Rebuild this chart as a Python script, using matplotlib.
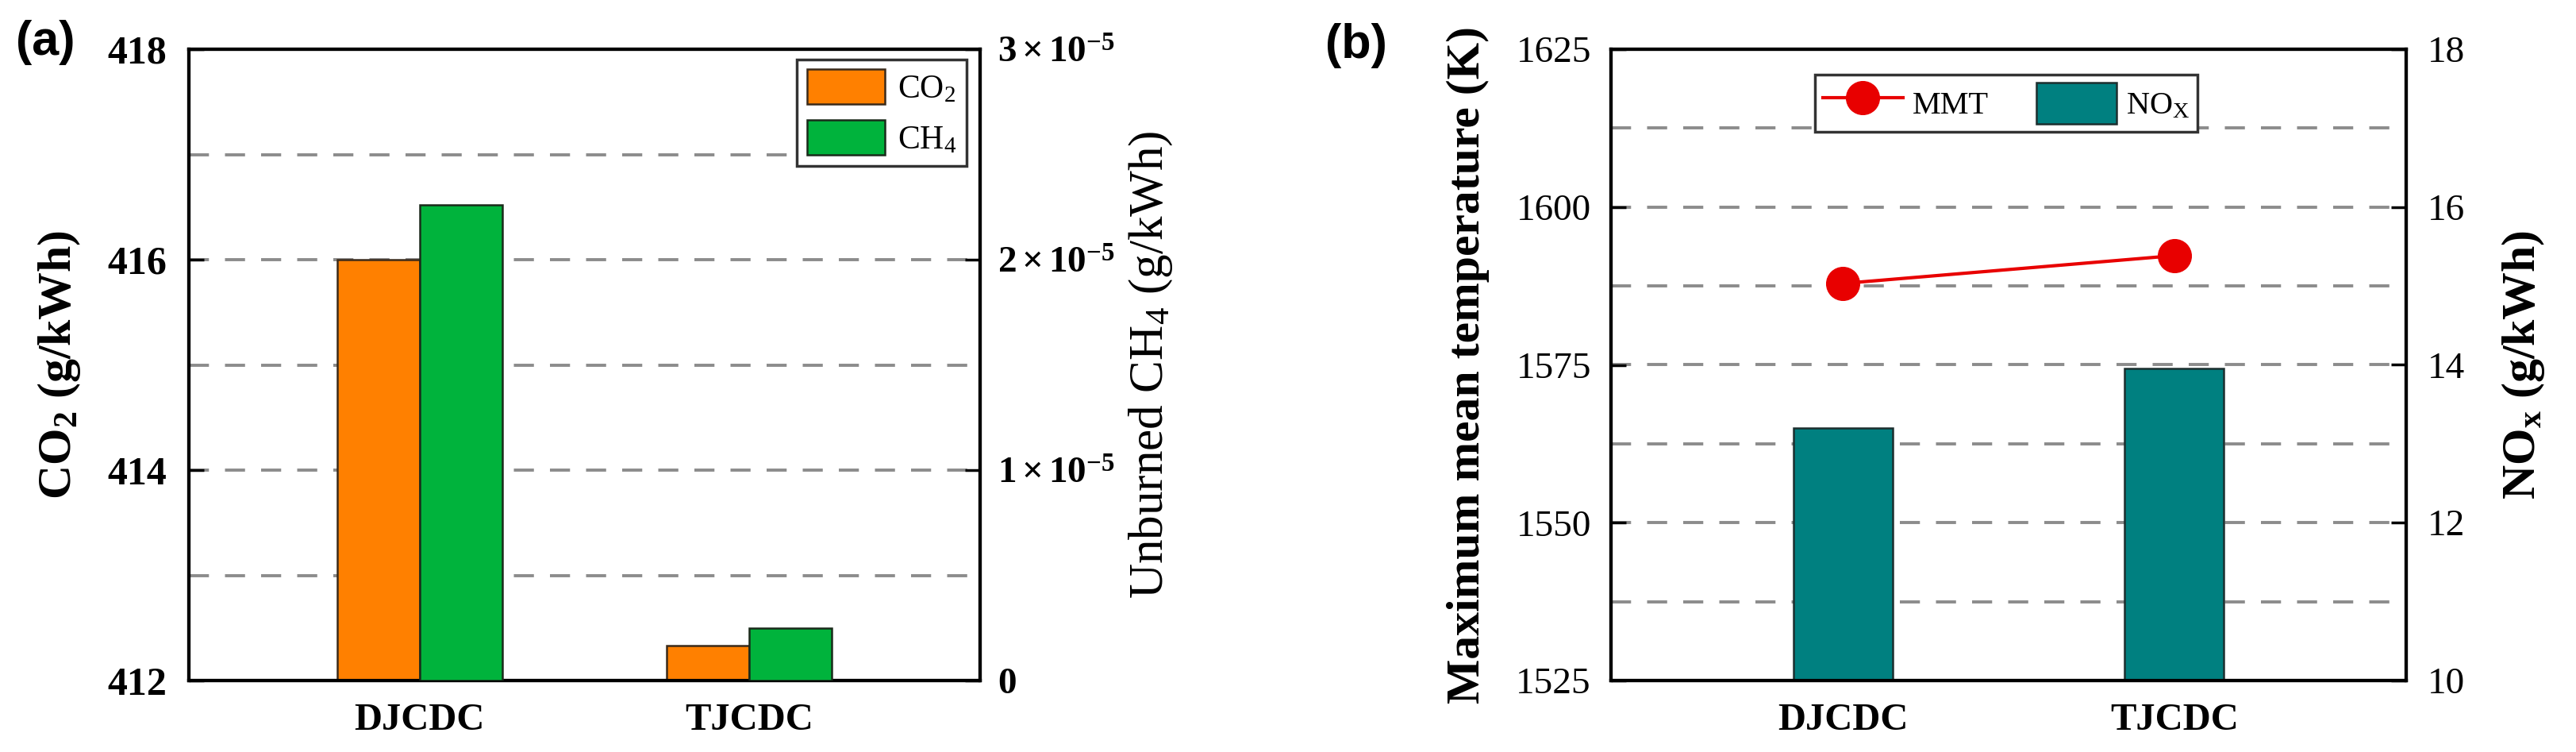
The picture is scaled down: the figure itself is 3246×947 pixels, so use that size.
import matplotlib
matplotlib.use("Agg")
import matplotlib.pyplot as plt
from matplotlib.ticker import MultipleLocator
import numpy as np

plt.rcParams['font.family'] = ['Liberation Serif', 'DejaVu Serif']
plt.rcParams['mathtext.fontset'] = 'custom'
plt.rcParams['mathtext.rm'] = 'Liberation Serif'
plt.rcParams['mathtext.it'] = 'Liberation Serif:italic'
plt.rcParams['mathtext.bf'] = 'Liberation Serif:bold'

# data
categories = ["DJCDC", "TJCDC"]
co2 = [416.0, 412.33]          # g/kWh, left axis of (a)
ch4 = [2.26e-5, 2.5e-6]        # g/kWh, right axis of (a)
mmt = [1587.9, 1592.3]         # K, left axis of (b)
nox = [13.2, 13.95]            # g/kWh, right axis of (b)

co2_ticks = [412, 414, 416, 418]
ch4_ticks = [0, 1e-5, 2e-5, 3e-5]
ch4_ticklabels = [r"$\mathbf{0}$", r"$\mathbf{1\times10^{-5}}$",
                  r"$\mathbf{2\times10^{-5}}$", r"$\mathbf{3\times10^{-5}}$"]
mmt_ticks = [1525, 1550, 1575, 1600, 1625]
nox_ticks = [10, 12, 14, 16, 18]

ORANGE = "#FF8000"
GREEN = "#00B33C"
TEAL = "#008080"
RED = "#E80000"
GRID = "#8c8c8c"
SPINE_W = 3.0
grid_kw = dict(color=GRID, linestyle=(0, (6.5, 5.2)), linewidth=2.8)

fig = plt.figure(figsize=(32.46, 9.47), dpi=100)
x = np.arange(len(categories))


def style_axes(ax):
    for s in ax.spines.values():
        s.set_linewidth(SPINE_W)
    ax.tick_params(which="major", direction="in", length=14, width=2.5)
    ax.tick_params(which="minor", length=0)


# ---------------- panel (a) ----------------
ax1 = fig.add_axes([238 / 3246, 90 / 947, 997 / 3246, 795 / 947])
ax1b = ax1.twinx()
bw = 0.25
b1 = ax1.bar(x - bw / 2, co2, width=bw, color=ORANGE, edgecolor="#3a2a1a",
             linewidth=1.8, label="CO$_2$", zorder=3)
b2 = ax1b.bar(x + bw / 2, ch4, width=bw, color=GREEN, edgecolor="#1a2a1a",
              linewidth=1.8, label="CH$_4$", zorder=3)
ax1.set_xlim(-0.7, 1.7)
ax1.set_ylim(412, 418)
ax1b.set_ylim(0, 3e-5)
ax1.set_yticks(co2_ticks)
ax1.set_yticklabels([str(t) for t in co2_ticks], fontweight="bold", fontsize=36)
ax1.yaxis.set_minor_locator(MultipleLocator(1))
ax1.grid(axis="y", which="both", **grid_kw)
ax1.set_axisbelow(True)
ax1b.set_yticks(ch4_ticks)
ax1b.set_yticklabels(ch4_ticklabels, fontsize=34)
ax1.set_xticks(x)
ax1.set_xticklabels(categories, fontweight="bold", fontsize=35)
style_axes(ax1)
style_axes(ax1b)
ax1.tick_params(axis="y", pad=20, right=False)
ax1.tick_params(axis="x", length=0, pad=20)
ax1b.tick_params(axis="y", pad=16)
ax1.set_ylabel(r"CO$_\mathbf{2}$ (g/kWh)", fontsize=43, fontweight="bold", va="center")
ax1.yaxis.set_label_coords(-0.1635, 0.5)
ax1b.set_ylabel(r"Unburned CH$_4$ (g/kWh)", fontsize=44, va="center")
ax1b.yaxis.set_label_coords(1.2157, 0.5)
leg1 = ax1b.legend(handles=[b1, b2], loc="upper right", bbox_to_anchor=(0.983, 0.984),
                   borderaxespad=0, fontsize=30, fancybox=False, framealpha=1,
                   edgecolor="#333333", handlelength=2.35, handleheight=1.25,
                   labelspacing=0.45, handletextpad=0.4, borderpad=0.3)
leg1.get_frame().set_linewidth(2.5)

# ---------------- panel (b) ----------------
ax2 = fig.add_axes([2030 / 3246, 90 / 947, 1002 / 3246, 795 / 947])
ax2b = ax2.twinx()
bw2 = 0.30
b3 = ax2b.bar(x, nox, width=bw2, color=TEAL, edgecolor="#1c2e2e",
              linewidth=1.8, label=r"NO$_\mathrm{X}$", zorder=3)
ln, = ax2.plot(x, mmt, color=RED, linewidth=3, marker="o", markersize=30,
               label="MMT", zorder=5)
ax2.set_zorder(ax2b.get_zorder() + 1)
ax2.patch.set_visible(False)
ax2.set_xlim(-0.7, 1.7)
ax2.set_ylim(1525, 1625)
ax2b.set_ylim(10, 18)
ax2.set_yticks(mmt_ticks)
ax2.set_yticklabels([str(t) for t in mmt_ticks], fontsize=34)
ax2b.set_yticks(nox_ticks)
ax2b.set_yticklabels([str(t) for t in nox_ticks], fontsize=34)
ax2b.yaxis.set_minor_locator(MultipleLocator(1))
ax2b.grid(axis="y", which="both", **grid_kw)
ax2b.set_axisbelow(True)
ax2.set_xticks(x)
ax2.set_xticklabels(categories, fontweight="bold", fontsize=35)
style_axes(ax2)
style_axes(ax2b)
ax2.tick_params(axis="y", pad=18, right=False)
ax2.tick_params(axis="x", length=0, pad=20)
ax2b.tick_params(axis="y", pad=19)
ax2.set_ylabel("Maximum mean temperature (K)", fontsize=43, fontweight="bold", va="center")
ax2.yaxis.set_label_coords(-0.1796, 0.5)
ax2b.set_ylabel(r"NO$_\mathbf{x}$ (g/kWh)", fontsize=43, fontweight="bold", va="center")
ax2b.yaxis.set_label_coords(1.1477, 0.5)
leg2 = ax2.legend(handles=[ln, b3], loc="upper center", bbox_to_anchor=(0.497, 0.96),
                  borderaxespad=0, ncol=2, fontsize=29, fancybox=False, framealpha=1,
                  edgecolor="#333333", handlelength=2.5, handleheight=1.6,
                  columnspacing=1.5, handletextpad=0.3, borderpad=0.25)
leg2.get_frame().set_linewidth(2.5)

fig.text(20 / 3246, 1 - 54 / 947, "(a)", fontsize=44, fontweight="bold",
         family="Liberation Sans", va="center", ha="left")
fig.text(1670 / 3246, 1 - 57 / 947, "(b)", fontsize=44, fontweight="bold",
         family="Liberation Sans", va="center", ha="left")

fig.savefig("out.png", dpi=100)
